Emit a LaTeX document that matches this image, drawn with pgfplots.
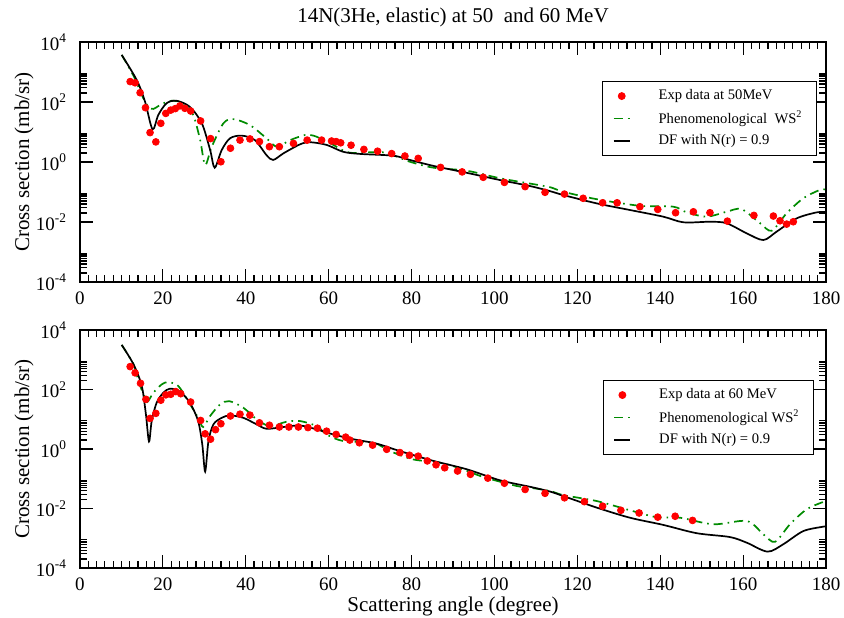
\documentclass[border=0pt]{standalone}
\usepackage{fontspec}
\setmainfont{Liberation Serif}
\usepackage{pgfplots}
\pgfplotsset{compat=1.18}
\definecolor{wsgreen}{RGB}{0,139,0}

\begin{document}
\begin{tikzpicture}
\path[use as bounding box] (0pt,0pt) rectangle (422pt,-308.5pt);

% 50 MeV
\begin{axis}[at={(40pt,-21pt)}, anchor=north west,
  scale only axis, width=373pt, height=120pt,
  xmin=0, xmax=180, ymode=log, ymin=1e-4, ymax=1e4,
  xtick={0,20,...,180}, minor x tick num=9,
  ytick={1e-4,1e-2,1,1e2,1e4},
  yticklabels={10\textsuperscript{-4},10\textsuperscript{-2},10\textsuperscript{0},10\textsuperscript{2},10\textsuperscript{4}},
  minor ytick={2e-4,3e-4,4e-4,5e-4,6e-4,7e-4,8e-4,9e-4,2e-2,3e-2,4e-2,5e-2,6e-2,7e-2,8e-2,9e-2,2,3,4,5,6,7,8,9,200,300,400,500,600,700,800,900},
  major tick length=6.5pt, minor tick length=3.5pt,
  tick style={black, line width=0.6pt},
  axis line style={line width=0.9pt},
  /pgf/number format/assume math mode=true,
  tick label style={font=\fontsize{9.5}{11}\selectfont},
  xticklabel style={yshift=-1.5pt},
  yticklabel style={xshift=-3pt},
  ylabel={Cross section (mb/sr)},
  ylabel style={font=\fontsize{10.5}{12}\selectfont, at={(rel axis cs:0,0.5)}, anchor=center, yshift=28pt},
  title={14N(3He, elastic) at 50\ \ and 60 MeV},
  title style={font=\fontsize{10.5}{12}\selectfont, at={(0.5,1)}, anchor=base, yshift=4pt},
  legend cell align=left,
  legend image code/.code={\draw[mark repeat=2,mark phase=2,#1] plot coordinates {(0pt,0pt) (4pt,0pt) (8pt,0pt)};},
  legend style={font=\fontsize{7.3}{9}\selectfont, draw=black, line width=0.5pt,
    at={(0.988,0.8375)}, anchor=north east, inner xsep=5pt, inner ysep=2pt, row sep=0pt, column sep=12pt}]
\addplot[only marks, mark=*, mark size=1.7pt, red, mark options={fill=red}] coordinates {
 (12.1,479) (13.3,437) (14.5,204) (15.8,64.6) (16.9,9.55) (18.3,4.68) (19.5,19.5) (20.7,41.7)
 (21.9,53.7) (23.0,60.3) (24.1,74.1) (25.3,61.7) (26.7,50.1) (29.1,23.4) (31.5,6.03) (34.0,1.02)
 (36.3,2.88) (38.6,5.37) (41.0,5.89) (43.3,4.79) (45.7,3.24) (48.1,3.24) (51.5,4.17) (54.8,5.37)
 (58.3,5.37) (60.7,5.01) (61.8,4.79) (62.9,4.37) (65.4,3.63) (68.5,2.63) (71.8,2.29) (75.2,1.91)
 (78.4,1.58) (81.6,1.32) (87.0,0.661) (92.2,0.468) (97.3,0.309) (102.4,0.209) (107.4,0.151)
 (112.2,0.0977) (116.9,0.0851) (121.4,0.0617) (126.1,0.0437) (129.6,0.0437) (135.1,0.0324)
 (139.4,0.0263) (143.7,0.0204) (148.0,0.0219) (152.0,0.0204) (156.2,0.0107) (162.6,0.0166)
 (167.3,0.0158) (168.9,0.0110) (170.5,0.00851) (172.1,0.0102)};
\addlegendentry{Exp data at 50MeV}
\addplot[wsgreen, line width=0.85pt, dash pattern=on 4.5pt off 2.5pt on 0.8pt off 2.5pt, smooth, tension=0.5] coordinates {
 (10.06,3720) (13.0,708) (14.9,170) (16.5,69.2) (17.7,58.9) (19.7,85.1) (22.1,110) (24.9,91.2)
 (27.3,37.2) (29.0,5.37) (30.2,0.794) (31.8,3.24) (34.6,19.5) (37.0,26.9) (41.0,17.0) (45.0,6.17)
 (47.5,3.24) (50.7,5.37) (54.3,7.94) (56.3,7.59) (57.9,6.17) (61.1,3.72) (65.1,2.04) (73.2,2.09)
 (79.6,1.02) (85.3,0.646) (93.3,0.513) (101.3,0.288) (108.6,0.191) (113.4,0.145) (116.6,0.102)
 (124.7,0.0575) (135.1,0.0347) (143.2,0.0324) (146.4,0.0209) (151.2,0.0151) (156.0,0.0219)
 (159.6,0.0269) (164.1,0.00912) (166.9,0.00513) (170.5,0.0195) (174.5,0.0617) (178.5,0.117) (180,0.120)};
\addlegendentry{Phenomenological\ \ WS\textsuperscript{2}}
\addplot[black, line width=0.85pt, smooth, tension=0.5] coordinates {
 (10.06,3720) (13.7,537) (15.7,102) (17.5,12.3) (18.9,37.2) (20.9,91.2) (23.3,110) (26.5,69.2)
 (29.4,19.5) (31.4,2.51) (32.5,0.646) (34.2,2.51) (36.2,6.17) (39.0,7.59) (42.2,5.37) (45.0,1.70)
 (46.6,1.17) (49.1,1.95) (53.1,3.89) (55.5,4.57) (59.5,3.72) (63.5,2.19) (67.6,1.86) (75.6,1.62)
 (79.6,1.17) (85.3,0.741) (93.3,0.437) (101.3,0.251) (108.6,0.158) (113.4,0.107) (116.6,0.0794)
 (124.7,0.0417) (132.7,0.0251) (140.7,0.0151) (145.6,0.00977) (152.0,0.0102) (156.0,0.00912)
 (160.9,0.00417) (164.9,0.00251) (168.1,0.00479) (172.9,0.0132) (177.7,0.0209) (180,0.0214)};
\addlegendentry{DF with N(r) = 0.9}
\end{axis}

% 60 MeV
\begin{axis}[at={(40pt,-165pt)}, anchor=north west,
  scale only axis, width=373pt, height=119pt,
  xmin=0, xmax=180, ymode=log, ymin=1e-4, ymax=1e4,
  xtick={0,20,...,180}, minor x tick num=9,
  ytick={1e-4,1e-2,1,1e2,1e4},
  yticklabels={10\textsuperscript{-4},10\textsuperscript{-2},10\textsuperscript{0},10\textsuperscript{2},10\textsuperscript{4}},
  minor ytick={2e-4,3e-4,4e-4,5e-4,6e-4,7e-4,8e-4,9e-4,2e-2,3e-2,4e-2,5e-2,6e-2,7e-2,8e-2,9e-2,2,3,4,5,6,7,8,9,200,300,400,500,600,700,800,900},
  major tick length=6.5pt, minor tick length=3.5pt,
  tick style={black, line width=0.6pt},
  axis line style={line width=0.9pt},
  /pgf/number format/assume math mode=true,
  tick label style={font=\fontsize{9.5}{11}\selectfont},
  xticklabel style={yshift=-1.5pt},
  yticklabel style={xshift=-3pt},
  ylabel={Cross section (mb/sr)},
  ylabel style={font=\fontsize{10.5}{12}\selectfont, at={(rel axis cs:0,0.5)}, anchor=center, yshift=28pt},
  xlabel={Scattering angle (degree)},
  xlabel style={font=\fontsize{10.5}{12}\selectfont, at={(rel axis cs:0.5,0)}, anchor=base, yshift=-21.5pt},
  legend cell align=left,
  legend image code/.code={\draw[mark repeat=2,mark phase=2,#1] plot coordinates {(0pt,0pt) (4pt,0pt) (8pt,0pt)};},
  legend style={font=\fontsize{7.3}{9}\selectfont, draw=black, line width=0.5pt,
    at={(0.984,0.790)}, anchor=north east, inner xsep=5pt, inner ysep=2pt, row sep=0pt, column sep=12pt}]
\addplot[only marks, mark=*, mark size=1.7pt, red, mark options={fill=red}] coordinates {
 (12.1,589) (13.3,363) (14.6,162) (15.9,46.8) (16.9,10.7) (18.3,15.8) (19.5,43.7) (20.7,66.1)
 (21.9,69.2) (23.1,85.1) (24.3,72.4) (26.7,38.0) (29.1,9.12) (30.2,3.24) (31.5,2.14) (32.7,4.47)
 (34.0,7.08) (36.3,12.9) (38.6,14.8) (41.0,13.8) (43.3,7.59) (45.7,6.31) (48.1,5.50) (50.4,5.50)
 (52.7,5.50) (55.0,5.25) (57.3,5.01) (59.5,3.98) (61.8,3.09) (64.1,2.51) (65.1,2.00) (67.4,1.62)
 (70.6,1.35) (74.0,0.977) (77.2,0.759) (79.5,0.617) (81.6,0.575) (83.8,0.398) (85.9,0.295)
 (88.0,0.234) (91.1,0.182) (94.2,0.141) (98.4,0.105) (102.4,0.0708) (107.4,0.0437) (112.2,0.0324)
 (116.9,0.0229) (121.7,0.0170) (126.1,0.0120) (130.5,0.00871) (134.9,0.00708) (139.4,0.00513)
 (143.6,0.00550) (147.8,0.00398)};
\addlegendentry{Exp data at 60 MeV}
\addplot[wsgreen, line width=0.85pt, dash pattern=on 4.5pt off 2.5pt on 0.8pt off 2.5pt, smooth, tension=0.5] coordinates {
 (10.06,3162) (12.9,708) (14.1,195) (15.3,69.2) (16.2,38.0) (17.7,77.6) (19.7,148) (21.3,178)
 (23.7,132) (26.1,40.7) (28.5,11.2) (29.7,5.50) (31.4,12.9) (33.8,31.6) (36.0,40.7) (39.4,24.5)
 (42.6,10.0) (45.8,5.89) (49.9,8.32) (53.1,8.71) (57.1,5.89) (59.5,3.09) (63.5,1.86) (70.8,1.62)
 (74.8,0.851) (80.4,0.447) (86.9,0.347) (91.7,0.224) (97.3,0.115) (105.3,0.0575) (108.6,0.0501)
 (113.4,0.0389) (116.6,0.0282) (124.7,0.0178) (132.7,0.00871) (139.1,0.00513) (144.8,0.00490)
 (152.8,0.00295) (160.9,0.00380) (164.9,0.00135) (167.7,0.000759) (171.3,0.00295) (175.3,0.00933)
 (179.3,0.0166) (180,0.0170)};
\addlegendentry{Phenomenological WS\textsuperscript{2}}
\addplot[black, line width=0.85pt, smooth, tension=0.5] coordinates {
 (10.06,3162) (12.9,708) (14.9,132) (15.9,14.8) (16.65,1.78) (17.3,8.71) (18.5,36.3) (20.1,77.6)
 (21.7,107) (24.1,85.1) (26.5,36.3) (28.5,8.71) (29.5,1.45) (30.2,0.174) (31.0,1.86) (32.2,6.76)
 (34.2,11.2) (36.2,13.5) (39.4,11.2) (42.6,6.76) (45.0,4.79) (49.1,5.50) (53.1,6.17) (57.1,4.57)
 (61.1,3.09) (65.9,2.14) (71.6,1.51) (77.2,0.851) (85.3,0.398) (93.3,0.209) (101.3,0.0891)
 (108.6,0.0537) (113.4,0.0372) (116.6,0.0263) (124.7,0.0107) (132.7,0.00490) (140.7,0.00282)
 (148.8,0.00148) (156.8,0.00110) (160.9,0.000708) (165.9,0.000355) (169.7,0.000631)
 (174.5,0.00174) (179.3,0.00245) (180,0.00251)};
\addlegendentry{DF with N(r) = 0.9}
\end{axis}
\end{tikzpicture}
\end{document}
